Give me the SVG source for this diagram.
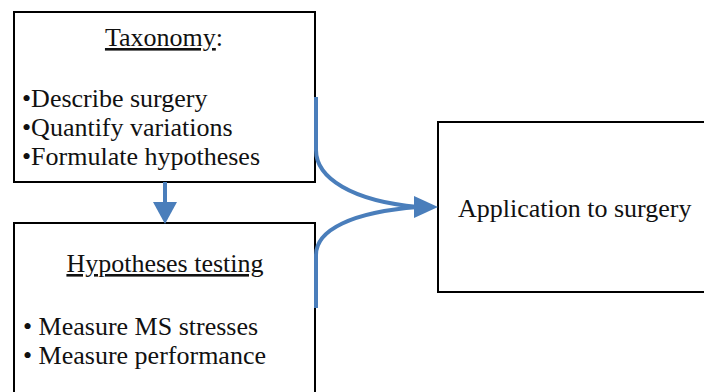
<svg xmlns="http://www.w3.org/2000/svg" width="704" height="392" viewBox="0 0 704 392">
<style>
.box{fill:#fff;stroke:#000;stroke-width:2}
.t{font-family:"Liberation Serif","Times New Roman",serif;font-size:26px;fill:#111}
.c{fill:none;stroke:#4a7ebb;stroke-width:4}
.u{text-decoration:underline}
</style>
<rect width="704" height="392" fill="#fff"/>
<g id="taxonomy">
<rect class="box" x="14" y="12" width="301" height="170"/>
<text class="t" x="164" y="46" text-anchor="middle"><tspan class="u">Taxonomy</tspan>:</text>
<text class="t" x="22" y="107">•Describe surgery</text>
<text class="t" x="22" y="136">•Quantify variations</text>
<text class="t" x="22" y="165">•Formulate hypotheses</text>
</g>
<g id="hypotheses">
<rect class="box" x="14" y="223" width="301" height="180"/>
<text class="t u" x="165" y="272" text-anchor="middle">Hypotheses testing</text>
<text class="t" x="23" y="335">• Measure MS stresses</text>
<text class="t" x="23" y="364">• Measure performance</text>
</g>
<g id="application">
<rect class="box" x="438" y="122" width="280" height="170"/>
<text class="t" x="458" y="217">Application to surgery</text>
</g>
<g id="connectors">
<line class="c" x1="165" y1="182" x2="165" y2="204"/>
<path d="M153,202 L177,202 L165,224 z" fill="#4a7ebb"/>
<path class="c" d="M316,97 V150 C316,178 352,201 418,207"/>
<path class="c" d="M316,308 V255 C316,230 352,212 418,207"/>
<path d="M414,196 L438,207 L414,218 z" fill="#4a7ebb"/>
</g>
</svg>
